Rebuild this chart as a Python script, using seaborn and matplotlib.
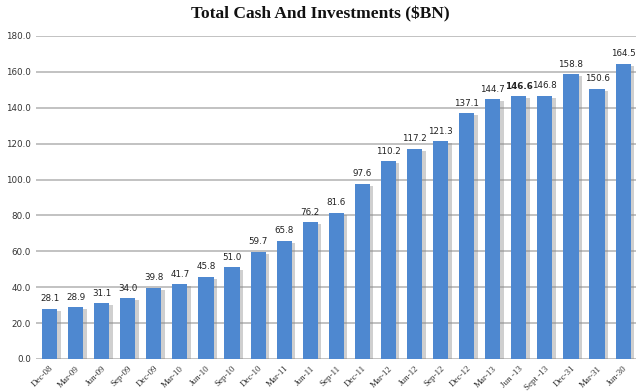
import matplotlib
matplotlib.use("Agg")
import matplotlib.pyplot as plt
import matplotlib.patheffects as pe
import seaborn as sns
import pandas as pd

# quarter labels as printed on the chart
quarters = ['Dec-08', 'Mar-09', 'Jun-09', 'Sep-09', 'Dec-09', 'Mar-10', 'Jun-10',
            'Sep-10', 'Dec-10', 'Mar-11', 'Jun-11', 'Sep-11', 'Dec-11', 'Mar-12',
            'Jun-12', 'Sep-12', 'Dec-12', 'Mar-13', 'Jun -13', 'Sept -13',
            'Dec-31', 'Mar-31', 'Jun-30']
cash_bn = [28.1, 28.9, 31.1, 34.0, 39.8, 41.7, 45.8, 51.0, 59.7, 65.8, 76.2,
           81.6, 97.6, 110.2, 117.2, 121.3, 137.1, 144.7, 146.6, 146.8, 158.8,
           150.6, 164.5]
y_ticks = [0, 20, 40, 60, 80, 100, 120, 140, 160, 180]

df = pd.DataFrame({'quarter': quarters, 'cash': cash_bn})

sns.set_style("white")

fig = plt.figure(figsize=(6.4, 3.91), dpi=100)
ax = fig.add_axes([0.057, 0.082, 0.937, 0.826])

# gridlines first so bars sit on top
for t in y_ticks:
    ax.axhline(t, color='#b2b2b2', lw=1.1, zorder=0)

sns.barplot(data=df, x='quarter', y='cash', color='#4e88d0', saturation=1,
            width=0.58, linewidth=0, ax=ax, zorder=2)

for bar in ax.patches:
    bar.set_path_effects([pe.SimplePatchShadow(offset=(2.5, -1.5), shadow_rgbFace='#888888', alpha=0.4),
                          pe.Normal()])

# value labels above bars
for i, v in enumerate(cash_bn):
    ax.text(i, v + 3, f'{v:.1f}', ha='center', va='bottom', fontsize=6.3,
            family='DejaVu Sans', color='#222222',
            fontweight='bold' if i == 18 else 'normal')

ax.set_xlim(-0.5, len(quarters) - 0.5)
ax.set_ylim(0, 180)
ax.set_yticks(y_ticks)
ax.set_yticklabels([f'{t:.1f}' for t in y_ticks], fontsize=6.3, family='DejaVu Sans', color='#333333')
ax.set_xticks(range(len(quarters)))
ax.set_xticklabels(quarters, rotation=45, ha='right', rotation_mode='anchor',
                   fontsize=6.5, family='Liberation Serif', color='#333333')
ax.tick_params(axis='both', length=0, pad=4)
ax.set_xlabel('')
ax.set_ylabel('')
sns.despine(ax=ax, left=True, bottom=True)

fig.suptitle('Total Cash And Investments ($BN)', x=0.5, y=0.985,
             fontsize=12.5, fontweight='bold', family='Liberation Serif', color='#111111')

fig.savefig('out.png', dpi=100)
